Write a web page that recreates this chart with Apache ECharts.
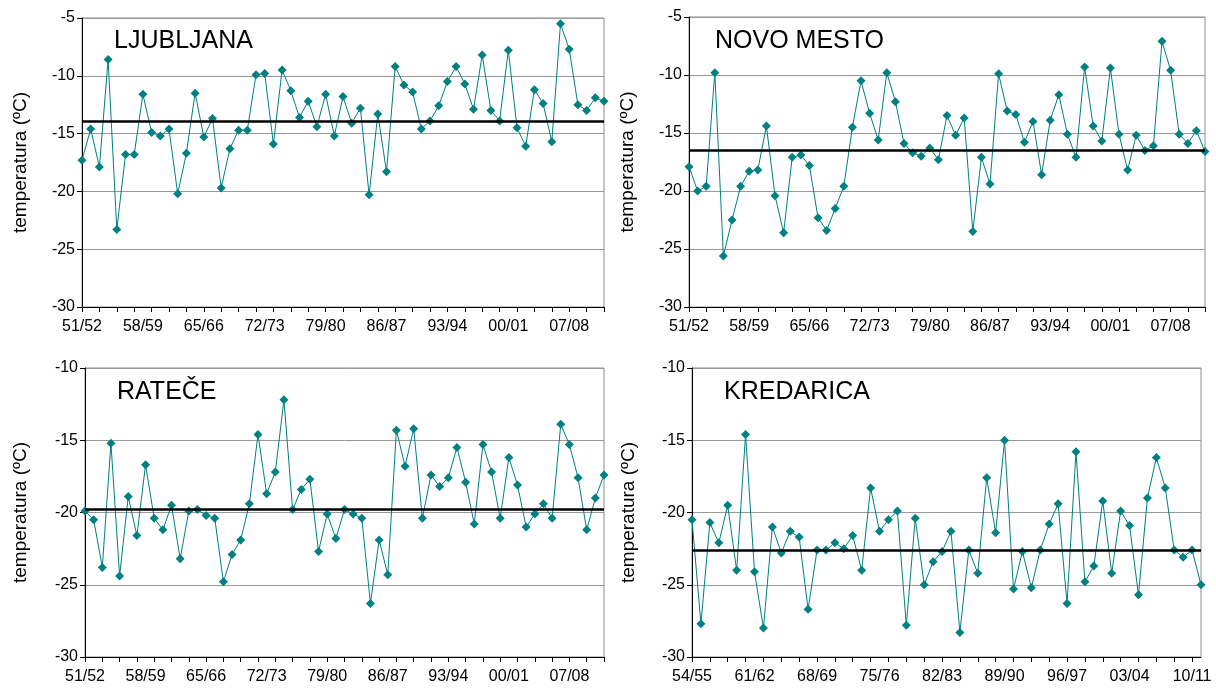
<!DOCTYPE html>
<html>
<head>
<meta charset="utf-8">
<title>Temperature</title>
<script src="https://cdn.jsdelivr.net/npm/echarts@6/dist/echarts.min.js"></script>
<style>
  html, body { margin: 0; padding: 0; background: #fff; }
  #chart { width: 1216px; height: 688px; }
</style>
</head>
<body>
<div id="chart"></div>
<script>
// Winter seasons
const seasons = [
  '51/52','52/53','53/54','54/55','55/56','56/57','57/58','58/59','59/60','60/61',
  '61/62','62/63','63/64','64/65','65/66','66/67','67/68','68/69','69/70','70/71',
  '71/72','72/73','73/74','74/75','75/76','76/77','77/78','78/79','79/80','80/81',
  '81/82','82/83','83/84','84/85','85/86','86/87','87/88','88/89','89/90','90/91',
  '91/92','92/93','93/94','94/95','95/96','96/97','97/98','98/99','99/00','00/01',
  '01/02','02/03','03/04','04/05','05/06','06/07','07/08','08/09','09/10','10/11',
  '11/12'
];
const seasonsKredarica = seasons.slice(3);

// Station values (ºC)
const ljubljana = [
  -17.3, -14.6, -17.9, -8.6, -23.3, -16.8, -16.8, -11.6, -14.9, -15.2,
  -14.6, -20.2, -16.7, -11.5, -15.3, -13.7, -19.7, -16.3, -14.7, -14.7,
  -9.9, -9.8, -15.9, -9.5, -11.3, -13.6, -12.2, -14.4, -11.6, -15.2,
  -11.8, -14.1, -12.8, -20.3, -13.3, -18.3, -9.2, -10.8, -11.4, -14.6,
  -13.9, -12.6, -10.5, -9.2, -10.7, -12.9, -8.2, -13.0, -13.9, -7.8,
  -14.5, -16.1, -11.2, -12.4, -15.7, -5.5, -7.7, -12.5, -13.0, -11.9,
  -12.2
];
const novoMesto = [
  -17.9, -20.0, -19.6, -9.8, -25.6, -22.5, -19.6, -18.3, -18.2, -14.4,
  -20.4, -23.6, -17.1, -16.9, -17.8, -22.3, -23.4, -21.5, -19.6, -14.5,
  -10.5, -13.3, -15.6, -9.8, -12.3, -15.9, -16.7, -17.0, -16.3, -17.3,
  -13.5, -15.2, -13.7, -23.5, -17.1, -19.4, -9.9, -13.1, -13.4, -15.8,
  -14.0, -18.6, -13.9, -11.7, -15.1, -17.1, -9.3, -14.4, -15.7, -9.4,
  -15.1, -18.2, -15.2, -16.5, -16.1, -7.1, -9.6, -15.1, -15.9, -14.8,
  -16.6
];
const ratece = [
  -19.9, -20.5, -23.8, -15.2, -24.4, -18.9, -21.6, -16.7, -20.4, -21.2,
  -19.5, -23.2, -19.9, -19.8, -20.2, -20.4, -24.8, -22.9, -21.9, -19.4,
  -14.6, -18.7, -17.2, -12.2, -19.8, -18.4, -17.7, -22.7, -20.1, -21.8,
  -19.8, -20.1, -20.4, -26.3, -21.9, -24.3, -14.3, -16.8, -14.2, -20.4,
  -17.4, -18.2, -17.6, -15.5, -17.9, -20.8, -15.3, -17.2, -20.4, -16.2,
  -18.1, -21.0, -20.1, -19.4, -20.4, -13.9, -15.3, -17.6, -21.2, -19.0,
  -17.4
];
const kredarica = [
  -20.5, -27.7, -20.7, -22.1, -19.5, -24.0, -14.6, -24.1, -28.0, -21.0,
  -22.8, -21.3, -21.7, -26.7, -22.6, -22.6, -22.1, -22.5, -21.6, -24.0,
  -18.3, -21.3, -20.5, -19.9, -27.8, -20.4, -25.0, -23.4, -22.7, -21.3,
  -28.3, -22.6, -24.2, -17.6, -21.4, -15.0, -25.3, -22.7, -25.2, -22.6,
  -20.8, -19.4, -26.3, -15.8, -24.8, -23.7, -19.2, -24.2, -19.9, -20.9,
  -25.7, -19.0, -16.2, -18.3, -22.6, -23.1, -22.6, -25.0
];

// Long-term mean of each station
const means = [-13.9, -16.5, -19.8, -22.6];
const stationNames = ['LJUBLJANA', 'NOVO MESTO', 'RATEČE', 'KREDARICA'];
const yMins = [-30, -30, -30, -30];
const yMaxs = [-5, -5, -10, -10];

const FONT = 'Liberation Sans, Arial, sans-serif';
const TEAL = '#008080';

const panels = [
  { grid: { left: 82, top: 18, width: 522, height: 289 }, cats: seasons, data: ljubljana, title: [114, 29], nameGap: 52 },
  { grid: { left: 689, top: 17, width: 516, height: 290 }, cats: seasons, data: novoMesto, title: [715, 29], nameGap: 52 },
  { grid: { left: 85, top: 368, width: 519, height: 289 }, cats: seasons, data: ratece, title: [117, 380], nameGap: 55 },
  { grid: { left: 692, top: 368, width: 509, height: 289 }, cats: seasonsKredarica, data: kredarica, title: [724, 380], nameGap: 54 }
];

const option = {
  animation: false,
  backgroundColor: '#fff',
  textStyle: { fontFamily: FONT },
  title: panels.map((p, i) => ({
    text: stationNames[i],
    left: p.title[0],
    top: p.title[1],
    padding: 0,
    textStyle: { fontFamily: FONT, fontSize: 25, fontWeight: 'normal', color: '#000' }
  })),
  grid: panels.map(p => Object.assign({
    show: true, borderColor: '#8c8c8c', borderWidth: 1, backgroundColor: '#fff'
  }, p.grid)),
  xAxis: panels.map((p, i) => ({
    type: 'category',
    gridIndex: i,
    data: p.cats,
    boundaryGap: false,
    axisLine: { lineStyle: { color: '#000', width: 1 } },
    axisTick: { show: true, interval: 1, length: 5, lineStyle: { color: '#000' } },
    axisLabel: { interval: 6, color: '#000', fontSize: 16, fontFamily: FONT, margin: 12 },
    splitLine: { show: false }
  })),
  yAxis: panels.map((p, i) => ({
    type: 'value',
    gridIndex: i,
    min: yMins[i],
    max: yMaxs[i],
    interval: 5,
    name: 'temperatura (ºC)',
    nameLocation: 'middle',
    nameGap: p.nameGap,
    nameTextStyle: { fontFamily: FONT, fontSize: 19, color: '#000' },
    axisLine: { show: true, lineStyle: { color: '#000', width: 1 } },
    axisTick: { show: true, length: 5, lineStyle: { color: '#000' } },
    axisLabel: { color: '#000', fontSize: 16, fontFamily: FONT, margin: 7 },
    splitLine: { show: true, lineStyle: { color: '#999', width: 1 } }
  })),
  series: panels.map((p, i) => ({
    type: 'line',
    xAxisIndex: i,
    yAxisIndex: i,
    data: p.data,
    symbol: 'diamond',
    symbolSize: 9,
    showAllSymbol: true,
    lineStyle: { color: TEAL, width: 1 },
    itemStyle: { color: TEAL },
    markLine: {
      silent: true,
      symbol: 'none',
      label: { show: false },
      lineStyle: { color: '#000', width: 2.5, type: 'solid' },
      data: [{ yAxis: means[i] }]
    }
  }))
};

const chart = echarts.init(document.getElementById('chart'), null, { renderer: 'canvas' });
chart.setOption(option);
</script>
</body>
</html>
